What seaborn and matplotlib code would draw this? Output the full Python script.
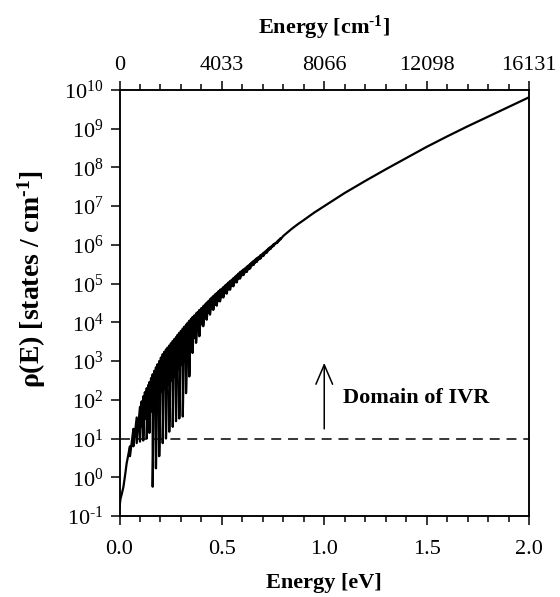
import matplotlib
matplotlib.use("Agg")
import matplotlib.pyplot as plt
import numpy as np
import pandas as pd
import seaborn as sns
from matplotlib.ticker import MultipleLocator, NullLocator

sns.set_style("ticks")
plt.rcParams["font.family"] = ["Liberation Serif", "DejaVu Serif"]
plt.rcParams["mathtext.fontset"] = "custom"
plt.rcParams["mathtext.rm"] = "Liberation Serif"
plt.rcParams["mathtext.it"] = "Liberation Serif:italic"
plt.rcParams["mathtext.bf"] = "Liberation Serif:bold"
plt.rcParams["axes.unicode_minus"] = False
for key in ["text.color", "axes.labelcolor", "xtick.color", "ytick.color",
            "axes.edgecolor"]:
    plt.rcParams[key] = "black"

# ---------------- data ----------------
# smooth rise at the very start
energy_start = [0.000, 0.005, 0.010, 0.019, 0.027, 0.035, 0.043]
rho_start = [0.17, 0.28, 0.35, 0.56, 1.1, 2.3, 3.8]

# oscillating region: deep spikes (energy, top value, bottom value)
spike_energy = [0.051, 0.068, 0.084, 0.100, 0.116, 0.133, 0.146, 0.162,
                0.178, 0.194, 0.211, 0.227, 0.243, 0.260, 0.276, 0.292,
                0.309, 0.325, 0.341, 0.357, 0.374, 0.390, 0.409, 0.426,
                0.442, 0.458, 0.475, 0.491, 0.507, 0.524, 0.540, 0.556,
                0.573, 0.589, 0.606, 0.622, 0.638, 0.655, 0.671, 0.688,
                0.704, 0.720, 0.737, 0.753, 0.770, 0.786]
spike_top = [6.3, 17.8, 35, 66, 123, 200, 288, 457,
             692, 1000, 1510, 2000, 2510, 3310, 4170, 5370,
             6920, 8710, 1.10e4, 1.38e4, 1.70e4, 2.09e4, 2.63e4, 3.24e4,
             3.98e4, 4.79e4, 5.75e4, 6.92e4, 8.13e4, 9.77e4, 1.17e5, 1.38e5,
             1.66e5, 2.00e5, 2.34e5, 2.75e5, 3.24e5, 3.89e5, 4.57e5, 5.37e5,
             6.31e5, 7.41e5, 8.91e5, 1.05e6, 1.23e6, 1.48e6]
spike_bottom = [3.5, 6.3, 7.6, 8.3, 8.9, 10, 14, 0.57,
                1.7, 3.5, 7.6, 10, 15, 20, 28, 33,
                37, 148, 400, 1620, 2950, 4370, 7940, 1.17e4,
                1.58e4, 2.09e4, 2.69e4, 3.47e4, 4.37e4, 5.50e4, 6.92e4, 8.51e4,
                1.07e5, 1.35e5, 1.66e5, 2.00e5, 2.45e5, 3.02e5, 3.63e5, 4.37e5,
                5.25e5, 6.31e5, 7.76e5, 9.33e5, 1.12e6, 1.38e6]

# shallower oscillations lying between the deep spikes
mid_energy = [0.108, 0.124, 0.140, 0.154, 0.170, 0.186, 0.202, 0.219,
              0.235, 0.251, 0.268, 0.284, 0.300, 0.317, 0.333, 0.349,
              0.365, 0.382, 0.400, 0.417, 0.434, 0.450, 0.466, 0.483,
              0.499, 0.515, 0.532, 0.548, 0.564, 0.581, 0.597, 0.614,
              0.630, 0.646, 0.663, 0.679, 0.696, 0.712, 0.728, 0.745,
              0.761, 0.778]
mid_top = [91, 158, 240, 363, 562, 832, 1230, 1740,
           2240, 2880, 3720, 4790, 6030, 7760, 9770, 1.23e4,
           1.51e4, 1.86e4, 2.34e4, 2.88e4, 3.55e4, 4.37e4, 5.25e4, 6.31e4,
           7.41e4, 8.91e4, 1.07e5, 1.26e5, 1.51e5, 1.82e5, 2.14e5, 2.51e5,
           2.95e5, 3.55e5, 4.17e5, 4.90e5, 5.75e5, 6.76e5, 8.13e5, 9.55e5,
           1.12e6, 1.35e6]
mid_bottom = [20, 32, 40, 50, 79, 100, 158, 200,
              251, 316, 398, 631, 794, 1000, 1580, 2510,
              3980, 6310, 8910, 1.26e4, 1.78e4, 2.24e4, 2.82e4, 3.55e4,
              4.47e4, 5.62e4, 7.08e4, 8.71e4, 1.07e5, 1.32e5, 1.62e5, 1.95e5,
              2.34e5, 2.88e5, 3.47e5, 4.17e5, 5.01e5, 6.03e5, 7.24e5, 8.71e5,
              1.05e6, 1.26e6]

# smooth high-energy part
energy_tail = [0.80, 0.82, 0.84, 0.87, 0.90, 0.95, 1.00, 1.10, 1.20, 1.30,
               1.40, 1.50, 1.60, 1.70, 1.80, 1.90, 2.00]
rho_tail = [1.70e6, 2.09e6, 2.57e6, 3.39e6, 4.37e6, 6.76e6, 1.0e7, 2.19e7,
            4.47e7, 8.91e7, 1.74e8, 3.39e8, 6.31e8, 1.15e9, 2.04e9, 3.63e9,
            6.46e9]

ivr_threshold = 10.0
bottom_ticks = [0.0, 0.5, 1.0, 1.5, 2.0]
bottom_tick_labels = ["0.0", "0.5", "1.0", "1.5", "2.0"]
top_tick_labels = ["0", "4033", "8066", "12098", "16131"]
y_exponents = ["\u20101", "0", "1", "2", "3", "4", "5", "6", "7", "8", "9", "10"]
y_tick_values = [0.1, 1, 10, 1e2, 1e3, 1e4, 1e5, 1e6, 1e7, 1e8, 1e9, 1e10]

# ---------------- build the line in drawing order ----------------
osc = sorted(list(zip(spike_energy, spike_top, spike_bottom)) +
             list(zip(mid_energy, mid_top, mid_bottom)))
xs, ys = list(energy_start), list(rho_start)
for e, t, b in osc:
    xs += [e, e]
    ys += [t, b]
xs += energy_tail
ys += rho_tail
df = pd.DataFrame({"energy": xs, "rho": ys})

# ---------------- figure ----------------
fig = plt.figure(figsize=(5.6, 5.97), dpi=100)
ax = fig.add_axes([0.2134, 0.1357, 0.7312, 0.7136])

sns.lineplot(data=df, x="energy", y="rho", sort=False, estimator=None,
             color="black", lw=1.6, ax=ax)
ax.set_yscale("log")
ax.set_xlim(0, 2.0)
ax.set_ylim(0.1, 1e10)

ax.axhline(ivr_threshold, color="black", lw=1.1, dashes=(6.5, 4.5))

ax.annotate("", xy=(1.0, 900), xytext=(1.0, 17.8),
            arrowprops=dict(arrowstyle="->,head_length=0.7,head_width=0.3",
                            mutation_scale=20, lw=1.1, color="black",
                            shrinkA=0, shrinkB=0))
ax.text(1.09, 112, "Domain of IVR", fontsize=16, fontweight="bold",
        ha="left", va="center")

# y axis
ax.set_yticks(y_tick_values)
ax.set_yticklabels([r"$10^{%s}$" % k for k in y_exponents], fontsize=16)
ax.yaxis.set_minor_locator(NullLocator())
ax.tick_params(axis="y", which="major", direction="out", length=6.5,
               width=1.1, pad=5, left=True, right=False)

# bottom x axis
ax.set_xticks(bottom_ticks)
ax.set_xticklabels(bottom_tick_labels, fontsize=16)
ax.xaxis.set_minor_locator(MultipleLocator(0.1))
ax.tick_params(axis="x", which="major", direction="out", length=6.5,
               width=1.1, pad=11)
ax.tick_params(axis="x", which="minor", direction="out", length=4,
               width=1.1)

for s in ax.spines.values():
    s.set_linewidth(1.1)
    s.set_visible(True)

ax.set_xlabel("Energy [eV]", fontsize=16, fontweight="bold")
ax.xaxis.label.set_va("center")
ax.xaxis.set_label_coords(0.5, -0.157)
ax.set_ylabel("ρ(E) [states / cm$^{\\mathbf{\u20101}}$]", fontsize=20,
              fontweight="bold")
ax.yaxis.label.set_va("center")
ax.yaxis.set_label_coords(-0.215, 0.555)

# top x axis (energy in cm^-1)
ax2 = ax.twiny()
ax2.set_xlim(ax.get_xlim())
ax2.set_xticks(bottom_ticks)
ax2.set_xticklabels(top_tick_labels, fontsize=16)
ax2.xaxis.set_minor_locator(MultipleLocator(0.1))
ax2.tick_params(axis="x", which="major", direction="out", length=6.5,
                width=1.1, pad=4)
ax2.tick_params(axis="x", which="minor", direction="out", length=4,
                width=1.1)
ax2.set_xlabel("Energy [cm$^{\\mathbf{\u20101}}$]", fontsize=16,
               fontweight="bold")
ax2.xaxis.label.set_va("center")
ax2.xaxis.set_label_coords(0.5, 1.1455)
for s in ax2.spines.values():
    s.set_linewidth(1.1)

fig.savefig("out.png", dpi=100, facecolor="white")
